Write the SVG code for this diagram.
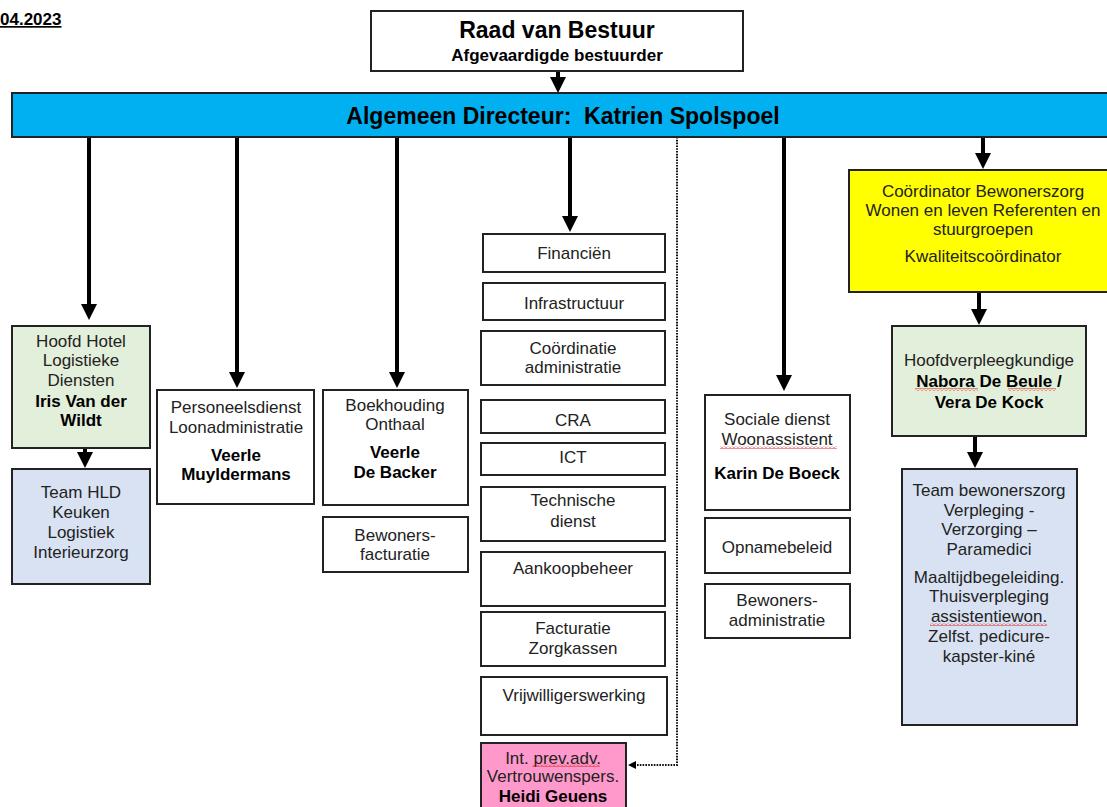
<svg xmlns="http://www.w3.org/2000/svg" width="1107" height="807" viewBox="0 0 1107 807">
<defs>
<style>
text{font-family:"Liberation Sans",Arial,sans-serif;font-size:17px;fill:#222;text-anchor:middle}
.b{font-weight:bold;fill:#000}
.box{stroke:#222;stroke-width:2;fill:#fff}
.green{fill:#e2efda}
.lblue{fill:#d9e2f3}
.yellow{fill:#ffff00}
.pink{fill:#ff99cc}
.conn{stroke:#000;stroke-width:4;fill:none;marker-end:url(#ah)}
.dot{stroke:#111;stroke-width:2;stroke-dasharray:1.6 1.2;fill:none;marker-end:url(#ahs)}
.sq{fill:url(#squig)}
</style>
<marker id="ah" markerUnits="userSpaceOnUse" viewBox="0 0 16 16" markerWidth="16" markerHeight="16" refX="6" refY="8" orient="auto">
<path d="M0,0 L16,8 L0,16 z" fill="#000"/>
</marker>
<marker id="ahs" markerUnits="userSpaceOnUse" viewBox="0 0 8 8" markerWidth="8" markerHeight="8" refX="2" refY="4" orient="auto">
<path d="M0,0 L8,4 L0,8 z" fill="#000"/>
</marker>
<pattern id="squig" patternUnits="userSpaceOnUse" width="4" height="3">
<path d="M0,2.5 L2,0.5 L4,2.5" stroke="#e02020" stroke-width="1" fill="none"/>
</pattern>
</defs>
<rect width="1107" height="807" fill="#fff"/>

<text class="b" x="0" y="25" style="text-anchor:start;text-decoration:underline">04.2023</text>

<g id="connectors">
<path class="conn" d="M558,71 V83"/>
<path class="conn" d="M89,137 V310"/>
<path class="conn" d="M237,137 V378"/>
<path class="conn" d="M397,137 V378"/>
<path class="conn" d="M570,137 V222"/>
<path class="conn" d="M784,137 V381"/>
<path class="conn" d="M983,137 V159"/>
<path class="conn" d="M979,292 V315"/>
<path class="conn" d="M975,436 V458"/>
<path class="conn" d="M85,448 V458"/>
<path class="dot" d="M677,137 V765 H634"/>
</g>

<g id="raad">
<rect class="box" x="371" y="11" width="372" height="60"/>
<text class="b" x="557" y="38" style="font-size:23px">Raad van Bestuur</text>
<text class="b" x="557" y="61">Afgevaardigde bestuurder</text>
</g>

<g id="directeur">
<rect class="box" x="12" y="93" width="1100" height="44" style="fill:#00b0f0"/>
<text class="b" x="563" y="124" style="font-size:23px" xml:space="preserve">Algemeen Directeur:  Katrien Spolspoel</text>
</g>

<g id="hoofd-hotel">
<rect class="box green" x="12" y="326" width="138" height="122"/>
<text x="81" y="347">Hoofd Hotel</text>
<text x="81" y="366">Logistieke</text>
<text x="81" y="386">Diensten</text>
<text class="b" x="81" y="407">Iris Van der</text>
<text class="b" x="81" y="426">Wildt</text>
</g>

<g id="team-hld">
<rect class="box lblue" x="12" y="469" width="138" height="115"/>
<text x="81" y="498">Team HLD</text>
<text x="81" y="518">Keuken</text>
<text x="81" y="538">Logistiek</text>
<text x="81" y="558">Interieurzorg</text>
</g>

<g id="personeelsdienst">
<rect class="box" x="157" y="390" width="157" height="114"/>
<text x="236" y="413">Personeelsdienst</text>
<text x="236" y="433">Loonadministratie</text>
<text class="b" x="236" y="461">Veerle</text>
<text class="b" x="236" y="480">Muyldermans</text>
</g>

<g id="boekhouding">
<rect class="box" x="323" y="390" width="145" height="115"/>
<text x="395" y="411">Boekhouding</text>
<text x="395" y="430">Onthaal</text>
<text class="b" x="395" y="458">Veerle</text>
<text class="b" x="395" y="478">De Backer</text>
</g>

<g id="bewoners-facturatie">
<rect class="box" x="323" y="517" width="145" height="55"/>
<text x="395" y="541">Bewoners-</text>
<text x="395" y="560">facturatie</text>
</g>

<g id="financien">
<rect class="box" x="483" y="234" width="182" height="38"/>
<text x="574" y="259">Financiën</text>
</g>
<g id="infrastructuur">
<rect class="box" x="483" y="283" width="182" height="37"/>
<text x="574" y="309">Infrastructuur</text>
</g>
<g id="coordinatie">
<rect class="box" x="481" y="331" width="184" height="54"/>
<text x="573" y="354">Coördinatie</text>
<text x="573" y="373">administratie</text>
</g>
<g id="cra">
<rect class="box" x="481" y="400" width="184" height="33"/>
<text x="573" y="426">CRA</text>
</g>
<g id="ict">
<rect class="box" x="481" y="443" width="184" height="32"/>
<text x="573" y="463">ICT</text>
</g>
<g id="technische-dienst">
<rect class="box" x="481" y="487" width="184" height="54"/>
<text x="573" y="506">Technische</text>
<text x="573" y="527">dienst</text>
</g>
<g id="aankoopbeheer">
<rect class="box" x="481" y="552" width="184" height="54"/>
<text x="573" y="574">Aankoopbeheer</text>
</g>
<g id="facturatie-zorgkassen">
<rect class="box" x="481" y="612" width="184" height="54"/>
<text x="573" y="634">Facturatie</text>
<text x="573" y="654">Zorgkassen</text>
</g>
<g id="vrijwilligerswerking">
<rect class="box" x="481" y="677" width="186" height="58"/>
<text x="574" y="701">Vrijwilligerswerking</text>
</g>
<g id="int-prev">
<rect class="box pink" x="481" y="743" width="145" height="70"/>
<text x="553" y="764">Int. prev.adv.</text>
<rect class="sq" x="532" y="764" width="68" height="3"/>
<text x="553" y="782">Vertrouwenspers.</text>
<text class="b" x="553" y="802">Heidi Geuens</text>
</g>

<g id="sociale-dienst">
<rect class="box" x="705" y="395" width="145" height="115"/>
<text x="777" y="425">Sociale dienst</text>
<text x="777" y="445">Woonassistent</text>
<rect class="sq" x="720" y="446" width="117" height="3"/>
<text class="b" x="777" y="479">Karin De Boeck</text>
</g>
<g id="opnamebeleid">
<rect class="box" x="705" y="518" width="145" height="55"/>
<text x="777" y="553">Opnamebeleid</text>
</g>
<g id="bewoners-administratie">
<rect class="box" x="705" y="584" width="145" height="54"/>
<text x="777" y="606">Bewoners-</text>
<text x="777" y="626">administratie</text>
</g>

<g id="coordinator">
<rect class="box yellow" x="849" y="170" width="270" height="122"/>
<text x="983" y="197">Coördinator Bewonerszorg</text>
<text x="983" y="216">Wonen en leven Referenten en</text>
<text x="983" y="235">stuurgroepen</text>
<text x="983" y="262">Kwaliteitscoördinator</text>
</g>

<g id="hoofdverpleegkundige">
<rect class="box green" x="892" y="326" width="194" height="110"/>
<text x="989" y="366">Hoofdverpleegkundige</text>
<text class="b" x="989" y="387">Nabora De Beule /</text>
<rect class="sq" x="915" y="388" width="63" height="3"/>
<rect class="sq" x="1008" y="388" width="48" height="3"/>
<text class="b" x="989" y="408">Vera De Kock</text>
</g>

<g id="team-bewonerszorg">
<rect class="box lblue" x="902" y="469" width="175" height="256"/>
<text x="989" y="496">Team bewonerszorg</text>
<text x="989" y="516">Verpleging -</text>
<text x="989" y="535">Verzorging –</text>
<text x="989" y="555">Paramedici</text>
<text x="989" y="583">Maaltijdbegeleiding.</text>
<text x="989" y="602">Thuisverpleging</text>
<text x="989" y="622">assistentiewon.</text>
<rect class="sq" x="930" y="623" width="117" height="3"/>
<text x="989" y="642">Zelfst. pedicure-</text>
<text x="989" y="662">kapster-kiné</text>
</g>
</svg>
